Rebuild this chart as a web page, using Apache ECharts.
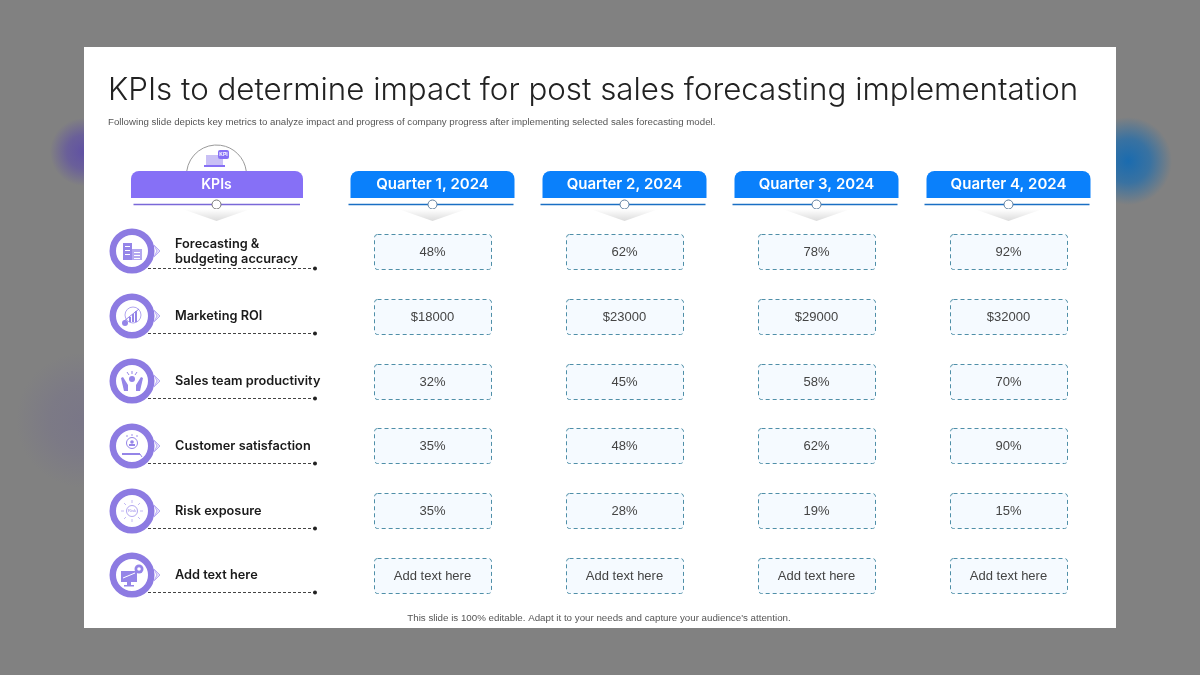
<!DOCTYPE html>
<html><head><meta charset="utf-8">
<style>html,body{margin:0;padding:0;background:#808080}#c{width:1200px;height:675px}</style>
<script src="https://cdn.jsdelivr.net/npm/echarts@6/dist/echarts.min.js"></script>
</head><body><div id="c"></div>
<script>
const quarters = ['Quarter 1, 2024','Quarter 2, 2024','Quarter 3, 2024','Quarter 4, 2024'];
const kpis = ['Forecasting &\nbudgeting accuracy','Marketing ROI','Sales team productivity','Customer satisfaction','Risk exposure','Add text here'];
const q1Values = ['48%','$18000','32%','35%','35%','Add text here'];
const q2Values = ['62%','$23000','45%','48%','28%','Add text here'];
const q3Values = ['78%','$29000','58%','62%','19%','Add text here'];
const q4Values = ['92%','$32000','70%','90%','15%','Add text here'];
const titleText = 'KPIs to determine impact for post sales forecasting implementation';
const subtitleText = 'Following slide depicts key metrics to analyze impact and progress of company progress after implementing selected sales forecasting model.';
const footerText = "This slide is 100% editable. Adapt it to your needs and capture your audience's attention.";

const columns = [q1Values,q2Values,q3Values,q4Values];
const cellData = [];
columns.forEach((col,c)=>col.forEach((v,r)=>cellData.push([c,r,v])));
const P='#8670f6', RING='#8d7be2', BODY='"Liberation Sans",Arial,sans-serif', HEAD='Inter,Lato,sans-serif';

function blob(cx,cy,rx,ry,rgb,a){return {type:'ellipse',silent:true,shape:{cx,cy,rx,ry},style:{fill:{type:'radial',x:.5,y:.5,r:.5,colorStops:[{offset:0,color:`rgba(${rgb},${a})`},{offset:.5,color:`rgba(${rgb},${a*.7})`},{offset:1,color:`rgba(${rgb},0)`}]}}};}
function tri(cx){return {type:'polygon',shape:{points:[[cx-34,209],[cx+34,209],[cx,221]]},style:{fill:{type:'linear',x:0,y:0,x2:0,y2:1,colorStops:[{offset:0,color:'#ffffff'},{offset:1,color:'#dcdcdc'}]}}};}

const w='#ffffff', ic='#9585e8', ic2='#b3a7f0';
function icon(i){
 const r=(x,y,W,H,f)=>({type:'rect',shape:{x,y,width:W,height:H},style:{fill:f||ic}});
 const c=(x,y,R,f,s)=>({type:'circle',shape:{cx:x,cy:y,r:R},style:s?{fill:'none',stroke:s,lineWidth:1}:{fill:f||ic}});
 const l=(a,b,d,e,s)=>({type:'line',shape:{x1:a,y1:b,x2:d,y2:e},style:{stroke:s||ic,lineWidth:1}});
 if(i===0) return [r(-9,-8,9,17),r(0,-2,10,11,ic2),r(-7,-5,5,1,w),r(-7,-1,5,1,w),r(-7,3,5,1,w),r(2,1,6,1,w),r(2,4,6,1,w),r(2,7,6,1,w)];
 if(i===1) return [c(1,-1,8,null,ic2),r(-3,1,2,5),r(0,-2,2,8),r(3,-5,2,11),l(-8,5,7,-7),c(-7,7,3)];
 if(i===2) return [c(0,-2,3),l(0,-10,0,-7),l(-5,-9,-3,-6),l(5,-9,3,-6),
   {type:'polygon',shape:{points:[[-11,-3],[-9,-4],[-4,4],[-4,10],[-8,10]]},style:{fill:ic}},
   {type:'polygon',shape:{points:[[11,-3],[9,-4],[4,4],[4,10],[8,10]]},style:{fill:ic}}];
 if(i===3) return [c(0,-3,5.5,null,ic),c(0,-4,1.8),r(-3,-2,6,2),r(-10,7,18,2),l(8,8,10,11),c(-5,-10,.8),c(0,-11,.8),c(5,-10,.8)];
 if(i===4) { const o=[c(0,0,5.5,null,ic2)];
   [[0,-11,0,-8],[0,8,0,11],[-11,0,-8,0],[8,0,11,0],[-8,-8,-6,-6],[8,-8,6,-6],[-8,8,-6,6],[8,8,6,6]].forEach(a=>o.push(l(a[0],a[1],a[2],a[3],'#c4baf5')));
   o.push({type:'text',style:{text:'Risk',x:0,y:0,align:'center',verticalAlign:'middle',font:'4px '+BODY,fill:ic}});return o;}
 return [r(-11,-4,16,11),r(-5,7,4,3),r(-8,10,10,1.5),l(-9,3,3,-2,w),c(7,-6,4.5),c(7,-6,1.8,w)];
}
function rowItem(params,api){
 const y=Math.round(api.coord([0,api.value(1)])[1]), i=api.value(1);
 const cx=132;
 const kids=[
  {type:'line',shape:{x1:148,y1:17.5,x2:315,y2:17.5},style:{stroke:'#444',lineWidth:1,lineDash:[3,2]}},
  {type:'circle',shape:{cx:315,cy:17.5,r:2},style:{fill:'#222'}},
  {type:'polygon',shape:{points:[[154,-6],[160,0],[154,6],[157,0]]},style:{fill:'#e5e0fb',stroke:'#b9acf5',lineWidth:1}},
  {type:'circle',shape:{cx,cy:0,r:19.25},style:{fill:'#fff',stroke:RING,lineWidth:6.5}},
  {type:'group',x:cx,y:0,children:icon(i)},
  {type:'text',style:{text:kpis[i],x:175,y:0.5,verticalAlign:'middle',font:'600 12.75px '+HEAD,fill:'#1a1a1a',lineHeight:15.5}}
 ];
 return {type:'group',y,children:kids};
}
function cellItem(params,api){
 const p=api.coord([api.value(0),api.value(1)]);
 const W=117,H=35;
 const top=Math.round(p[1]-H/2)+0.5;
 return {type:'group',x:p[0],y:top,children:[
  {type:'rect',shape:{x:-58,y:0,width:W,height:H,r:3},style:{fill:'#f5faff',stroke:'#4f8fa8',lineWidth:1,lineDash:[4,3]}},
  {type:'text',style:{text:columns[api.value(0)][api.value(1)],x:0,y:H/2+0.5,align:'center',verticalAlign:'middle',font:'13px '+BODY,fill:'#444'}}
 ]};
}
function headItem(params,api){
 const x=api.coord([api.value(0),0])[0];
 return {type:'group',x,children:[
  {type:'rect',shape:{x:-82,y:171,width:164,height:27,r:[8,8,0,0]},style:{fill:'#0a80fb'}},
  {type:'text',style:{text:quarters[api.value(0)],x:0,y:184.5,align:'center',verticalAlign:'middle',font:'600 15px '+HEAD,fill:'#fff'}},
  {type:'line',shape:{x1:-84,y1:204.5,x2:81,y2:204.5},style:{stroke:'#1a6fc4',lineWidth:1.5}},
  {type:'circle',shape:{cx:0,cy:204.5,r:4.5},style:{fill:'#fff',stroke:'#5f7f9f',lineWidth:1}},
  tri(0)
 ]};
}
const chart=echarts.init(document.getElementById('c'),null,{renderer:'canvas'});
chart.setOption({
 animation:false,
 backgroundColor:'#818181',
 grid:{left:336.5,top:219,width:768,height:388.8},
 xAxis:{type:'category',data:quarters,show:false},
 yAxis:{type:'category',data:kpis,inverse:true,show:false},
 graphic:{elements:[
  {type:'group',z:-10,silent:true,children:[
   blob(84,420,68,260,'105,95,150',.3),
   blob(84,152,34,36,'85,65,175',.75),
   blob(1128,161,58,44,'15,105,180',.9),
   {type:'rect',shape:{x:84,y:47,width:1032,height:581},style:{fill:'#fff'}},
   {type:'text',style:{text:titleText,x:108,y:90.5,verticalAlign:'middle',font:'300 31.3px '+HEAD,fill:'#222'}},
   {type:'text',style:{text:subtitleText,x:108,y:122,verticalAlign:'middle',font:'9.7px '+BODY,fill:'#555'}},
   {type:'text',style:{text:footerText,x:599,y:618.5,align:'center',verticalAlign:'middle',font:'9.75px '+BODY,fill:'#555'}},
   {type:'arc',shape:{cx:216.5,cy:175,r:30,startAngle:Math.PI+0.134,endAngle:2*Math.PI-0.134,clockwise:true},style:{fill:'none',stroke:'#9a9a9a',lineWidth:1}},
   {type:'rect',shape:{x:206,y:155,width:17,height:11},style:{fill:'#c9c0f5'}},
   {type:'rect',shape:{x:204,y:165,width:21,height:2},style:{fill:P}},
   {type:'rect',shape:{x:218,y:150,width:11,height:9,r:2},style:{fill:P}},
   {type:'text',style:{text:'KPI',x:223.5,y:154.5,align:'center',verticalAlign:'middle',font:'bold 5px '+BODY,fill:'#fff'}},
   {type:'rect',shape:{x:131,y:171,width:172,height:27,r:[8,8,0,0]},style:{fill:P}},
   {type:'text',style:{text:'KPIs',x:216.5,y:184.5,align:'center',verticalAlign:'middle',font:'600 14px '+HEAD,fill:'#fff'}},
   {type:'line',shape:{x1:133.5,y1:204.5,x2:300,y2:204.5},style:{stroke:'#7a68d8',lineWidth:1.5}},
   {type:'circle',shape:{cx:216.5,cy:204.5,r:4.5},style:{fill:'#fff',stroke:'#777',lineWidth:1}},
   tri(216.5)
  ]}
 ]},
 series:[
  {type:'custom',coordinateSystem:'cartesian2d',renderItem:headItem,data:quarters.map((q,i)=>[i,0]),encode:{x:0,y:1},silent:true,clip:false},
  {type:'custom',coordinateSystem:'cartesian2d',renderItem:rowItem,data:kpis.map((k,i)=>[0,i]),encode:{x:0,y:1},silent:true,clip:false},
  {type:'custom',coordinateSystem:'cartesian2d',renderItem:cellItem,data:cellData.map(d=>[d[0],d[1]]),encode:{x:0,y:1},silent:true,clip:false}
 ]
});
</script></body></html>
